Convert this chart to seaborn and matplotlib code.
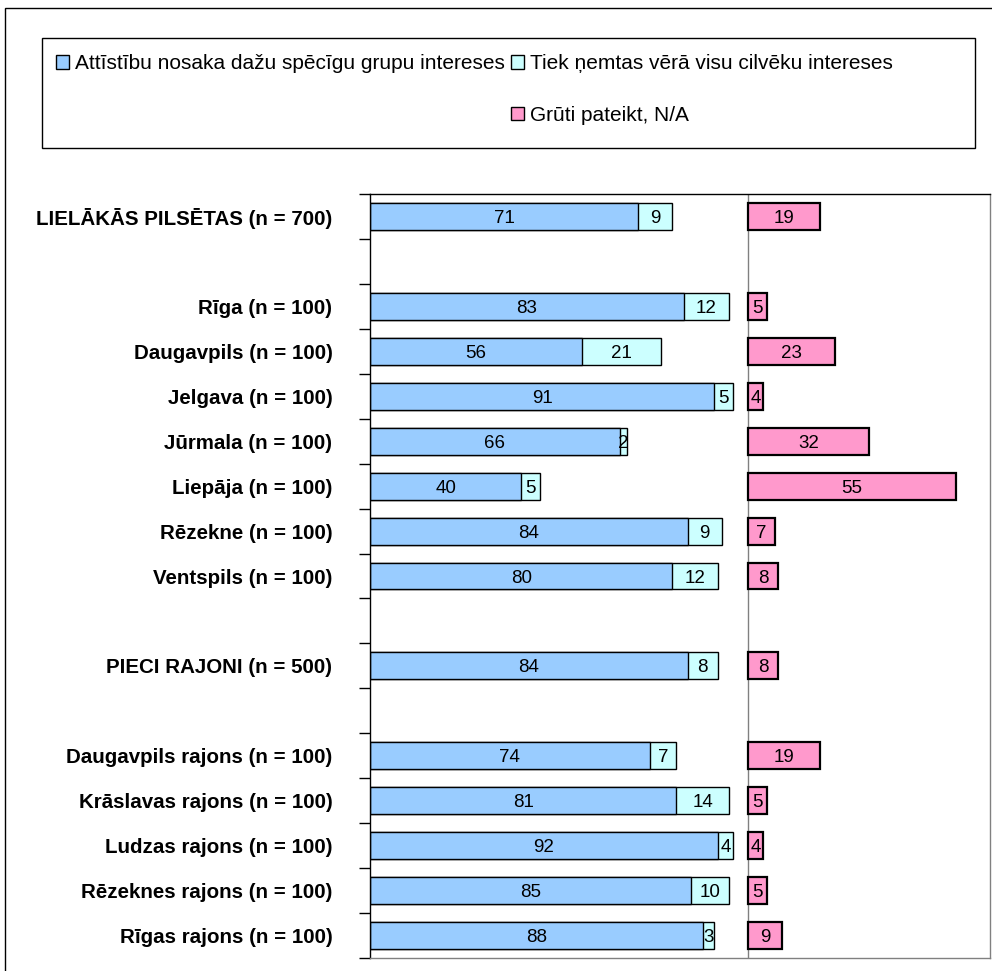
import numpy as np
import pandas as pd
import matplotlib
matplotlib.use("Agg")
import matplotlib.pyplot as plt
from matplotlib.patches import Patch, Rectangle
import seaborn as sns

# Dati
kategorijas = ["LIELĀKĀS PILSĒTAS (n = 700)", " ", "Rīga (n = 100)", "Daugavpils (n = 100)",
               "Jelgava (n = 100)", "Jūrmala (n = 100)", "Liepāja (n = 100)", "Rēzekne (n = 100)",
               "Ventspils (n = 100)", "  ", "PIECI RAJONI (n = 500)", "   ",
               "Daugavpils rajons (n = 100)", "Krāslavas rajons (n = 100)", "Ludzas rajons (n = 100)",
               "Rēzeknes rajons (n = 100)", "Rīgas rajons (n = 100)"]
speciga = [71, np.nan, 83, 56, 91, 66, 40, 84, 80, np.nan, 84, np.nan, 74, 81, 92, 85, 88]
visu = [9, np.nan, 12, 21, 5, 2, 5, 9, 12, np.nan, 8, np.nan, 7, 14, 4, 10, 3]
gruti = [19, np.nan, 5, 23, 4, 32, 55, 7, 8, np.nan, 8, np.nan, 19, 5, 4, 5, 9]
leg_labels = ["Attīstību nosaka dažu spēcīgu grupu intereses",
              "Tiek ņemtas vērā visu cilvēku intereses",
              "Grūti pateikt, N/A"]
nobide = 100  # "grūti pateikt" stabiņi sākas pie 100

df = pd.DataFrame({"kat": kategorijas, "a": speciga, "b": visu, "c": gruti})
df["ab"] = df["a"] + df["b"]

sns.set_style("white")
plt.rcParams["font.family"] = ["Liberation Sans", "DejaVu Sans"]

c_blue, c_cyan, c_pink = "#99CCFF", "#CCFFFF", "#FF99CC"

fig = plt.figure(figsize=(9.92, 9.71), dpi=100)
ax = fig.add_axes([370 / 992, 1 - 958 / 971, 620 / 992, 764 / 971])

bar_kw = dict(orient="h", order=kategorijas, width=0.6, edgecolor="black",
              errorbar=None, saturation=1, ax=ax)
# kopējais (gaiši zilais) apakšā, zilais virsū
sns.barplot(data=df, x="ab", y="kat", color=c_cyan, linewidth=1, **bar_kw)
sns.barplot(data=df, x="a", y="kat", color=c_blue, linewidth=1, **bar_kw)
sns.barplot(data=df, x="c", y="kat", color=c_pink, linewidth=1.6, left=nobide, **bar_kw)

ax.axvline(nobide, color="#808080", lw=1, zorder=0)

# vērtību uzraksti
txt = dict(ha="center", va="center_baseline", fontsize=13.5, color="black")
for i, row in df.iterrows():
    if np.isnan(row["a"]):
        continue
    ax.text(row["a"] / 2, i, f"{int(row['a'])}", **txt)
    ax.text(row["a"] + row["b"] / 2, i, f"{int(row['b'])}", **txt)
    ax.text(nobide + row["c"] / 2, i, f"{int(row['c'])}", **txt)

ax.set_xlim(0, 164)
ax.set_ylim(len(kategorijas) - 0.5, -0.5)
ax.set_xlabel("")
ax.set_ylabel("")
ax.set_xticks([])
ax.set_yticks(range(len(kategorijas)))
ax.set_yticklabels(kategorijas, fontsize=14.8, fontweight="bold", color="black")
ax.set_yticks(np.arange(-0.5, len(kategorijas)), minor=True)
ax.tick_params(axis="y", which="major", length=0, pad=27)
ax.tick_params(axis="y", which="minor", length=8, width=1, color="black", direction="out", left=True)

for s in ["left", "top"]:
    ax.spines[s].set_color("black")
for s in ["right", "bottom"]:
    ax.spines[s].set_color("#808080")
for s in ax.spines.values():
    s.set_linewidth(1)

# leģenda
h = [Patch(facecolor=c, edgecolor="black", lw=1) for c in (c_blue, c_cyan, c_pink)]
blank = Patch(facecolor="none", edgecolor="none")
leg = fig.legend([h[0], blank, h[1], h[2]], [leg_labels[0], "", leg_labels[1], leg_labels[2]],
                 ncol=2, loc="upper left", bbox_to_anchor=(46 / 992, 1 - 44 / 971),
                 frameon=False, fontsize=15, handlelength=0.6, handleheight=0.6,
                 handletextpad=0.3, columnspacing=0.3, labelspacing=1.55, borderpad=0)
for t in leg.get_texts():
    t.set_color("black")
fig.patches.append(Rectangle((42 / 992, 1 - 148 / 971), 933 / 992, 110 / 971,
                             transform=fig.transFigure, fill=False, edgecolor="black", lw=1))
fig.patches.append(Rectangle((5 / 992, -0.1), 1.2, 1.1 - 8 / 971,
                             transform=fig.transFigure, fill=False, edgecolor="black", lw=1))

fig.savefig("out.png", dpi=100, facecolor="white")
